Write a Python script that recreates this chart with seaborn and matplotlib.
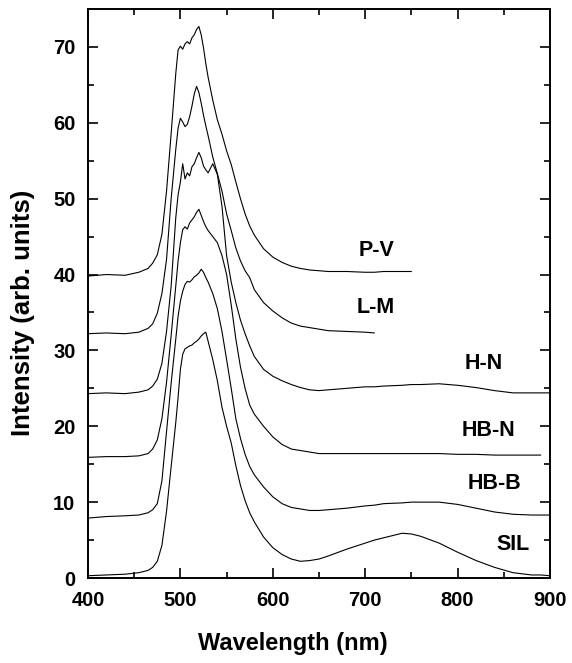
import numpy as np
import pandas as pd
import matplotlib
matplotlib.use("Agg")
import matplotlib.pyplot as plt
import seaborn as sns
from matplotlib.ticker import MultipleLocator

nan = np.nan

wavelength = [400, 420, 440, 455, 465, 470, 475, 480, 485, 490, 495, 497.5, 500, 502.5, 505,
              507.5, 510, 512.5, 515, 517.5, 520, 522.5, 525, 527.5, 530, 535, 540, 545, 550, 555,
              560, 565, 570, 575, 580, 590, 600, 610, 620, 630, 640, 650, 660, 680, 700,
              710, 720, 740, 750, 760, 780, 800, 820, 840, 860, 880, 890, 900]

pv = [39.8, 40.0, 39.9, 40.3, 40.8, 41.5, 42.6, 45.3, 51.0, 58.6, 66.5, 69.6, 70.1, 69.7, 70.4,
      70.7, 70.4, 71.2, 71.6, 72.3, 72.7, 71.6, 69.9, 67.8, 66.0, 63.0, 60.4, 58.5, 56.3, 54.5,
      52.2, 50.0, 48.0, 46.4, 45.2, 43.4, 42.3, 41.6, 41.1, 40.8, 40.6, 40.5, 40.4, 40.4, 40.3,
      40.3, 40.4, 40.4, 40.4, nan, nan, nan, nan, nan, nan, nan, nan, nan]

lm = [32.2, 32.3, 32.2, 32.4, 32.9, 33.5, 34.9, 37.5, 42.0, 50.0, 56.5, 59.3, 60.6, 60.1, 59.5,
      59.8, 60.8, 62.2, 63.8, 64.8, 64.0, 62.6, 61.0, 59.6, 58.3, 55.5, 53.3, 51.0, 48.0, 45.8,
      43.5, 41.8, 40.5, 39.6, 38.0, 36.3, 35.2, 34.3, 33.6, 33.2, 33.0, 32.8, 32.6, 32.5, 32.4,
      32.3, nan, nan, nan, nan, nan, nan, nan, nan, nan, nan, nan, nan]

hn = [24.3, 24.4, 24.3, 24.5, 24.8, 25.3, 26.2, 28.3, 32.5, 38.5, 47.5, 50.5, 52.2, 54.6, 52.6,
      53.4, 53.0, 54.2, 54.6, 55.4, 56.1, 55.4, 54.3, 53.8, 53.4, 54.6, 53.2, 49.0, 42.5, 39.0,
      36.3, 34.0, 32.2, 30.6, 29.2, 27.5, 26.6, 26.0, 25.5, 25.1, 24.8, 24.7, 24.8, 25.0, 25.2,
      25.2, 25.3, 25.4, 25.5, 25.5, 25.6, 25.4, 25.1, 24.7, 24.4, 24.4, 24.4, 24.4]

hbn = [15.9, 16.0, 16.0, 16.1, 16.4, 17.0, 18.2, 21.0, 25.8, 32.0, 38.5, 41.8, 44.2, 45.9, 46.3,
       46.0, 46.8, 47.2, 47.6, 48.2, 48.6, 47.8, 47.0, 46.3, 45.8, 45.0, 44.2, 42.5, 40.0, 36.0,
       31.5, 27.8, 25.0, 22.8, 21.6, 20.0, 18.6, 17.6, 17.0, 16.8, 16.6, 16.4, 16.4, 16.4, 16.4,
       16.4, 16.4, 16.4, 16.4, 16.4, 16.4, 16.3, 16.3, 16.2, 16.2, 16.2, 16.2, nan]

hbb = [7.9, 8.1, 8.2, 8.3, 8.6, 9.0, 9.8, 12.8, 19.3, 25.7, 31.5, 34.5, 36.5, 37.8, 38.7,
       39.1, 39.0, 39.3, 39.7, 39.9, 40.2, 40.7, 40.3, 39.6, 39.0, 37.5, 35.5, 32.5, 28.8, 25.0,
       21.0, 18.4, 16.3, 14.7, 13.6, 12.0, 10.7, 9.8, 9.3, 9.1, 8.9, 8.9, 9.0, 9.2, 9.5,
       9.6, 9.8, 9.9, 10.0, 10.0, 10.0, 9.7, 9.2, 8.7, 8.4, 8.3, 8.3, 8.3]

sil = [0.3, 0.4, 0.5, 0.7, 1.0, 1.4, 2.2, 4.3, 8.8, 14.7, 20.5, 23.8, 27.5, 29.5, 30.2,
       30.4, 30.6, 30.7, 31.0, 31.2, 31.5, 31.9, 32.2, 32.4, 31.2, 28.8, 26.0, 22.5, 20.0, 17.8,
       14.8, 12.2, 10.2, 8.6, 7.4, 5.4, 4.0, 3.1, 2.5, 2.2, 2.3, 2.5, 2.9, 3.8, 4.6,
       5.0, 5.3, 5.9, 5.8, 5.5, 4.6, 3.4, 2.3, 1.4, 0.7, 0.4, 0.4, 0.3]

series_names = ["P-V", "L-M", "H-N", "HB-N", "HB-B", "SIL"]
series_values = [pv, lm, hn, hbn, hbb, sil]
label_x = [712, 711, 828, 833, 840, 860]
label_y = [43.2, 35.6, 28.3, 19.4, 12.5, 4.4]

x_ticks = [400, 500, 600, 700, 800, 900]
y_ticks = [0, 10, 20, 30, 40, 50, 60, 70]

sns.set_style("ticks")
plt.rcParams['font.family'] = ['Liberation Sans', 'DejaVu Sans']
plt.rcParams['font.weight'] = 'bold'
for key in ["text.color", "axes.labelcolor", "xtick.color", "ytick.color", "axes.edgecolor"]:
    plt.rcParams[key] = "black"

fig = plt.figure(figsize=(5.72, 6.63), dpi=100)
ax = fig.add_axes([88 / 572, 85 / 663, 462 / 572, 569 / 663])

for name, vals in zip(series_names, series_values):
    df = pd.DataFrame({"wl": wavelength, "I": vals}).dropna()
    sns.lineplot(data=df, x="wl", y="I", ax=ax, color="black", linewidth=0.8,
                 estimator=None, sort=True)

for name, lx, ly in zip(series_names, label_x, label_y):
    ax.text(lx, ly, name, ha="center", va="center", fontsize=15.5,
            fontweight="bold", color="black")

ax.set_xlim(400, 900)
ax.set_ylim(0, 75)
ax.set_xticks(x_ticks)
ax.set_yticks(y_ticks)
ax.xaxis.set_minor_locator(MultipleLocator(50))
ax.yaxis.set_minor_locator(MultipleLocator(5))
ax.tick_params(which="both", direction="in", top=True, right=True, width=1.2, colors="black")
ax.tick_params(which="major", length=7, labelsize=14.5, pad=9)
ax.tick_params(which="minor", length=4)
for lab in ax.get_xticklabels() + ax.get_yticklabels():
    lab.set_fontweight("bold")
for sp in ax.spines.values():
    sp.set_linewidth(1.4)
    sp.set_color("black")

ax.set_xlabel("Wavelength (nm)", fontsize=17, fontweight="bold", color="black")
ax.set_ylabel("Intensity (arb. units)", fontsize=18.5, fontweight="bold", color="black")
ax.xaxis.set_label_coords(0.444, -0.095)
ax.yaxis.set_label_coords(-0.115, 0.466)

fig.savefig("out.png", dpi=100)
